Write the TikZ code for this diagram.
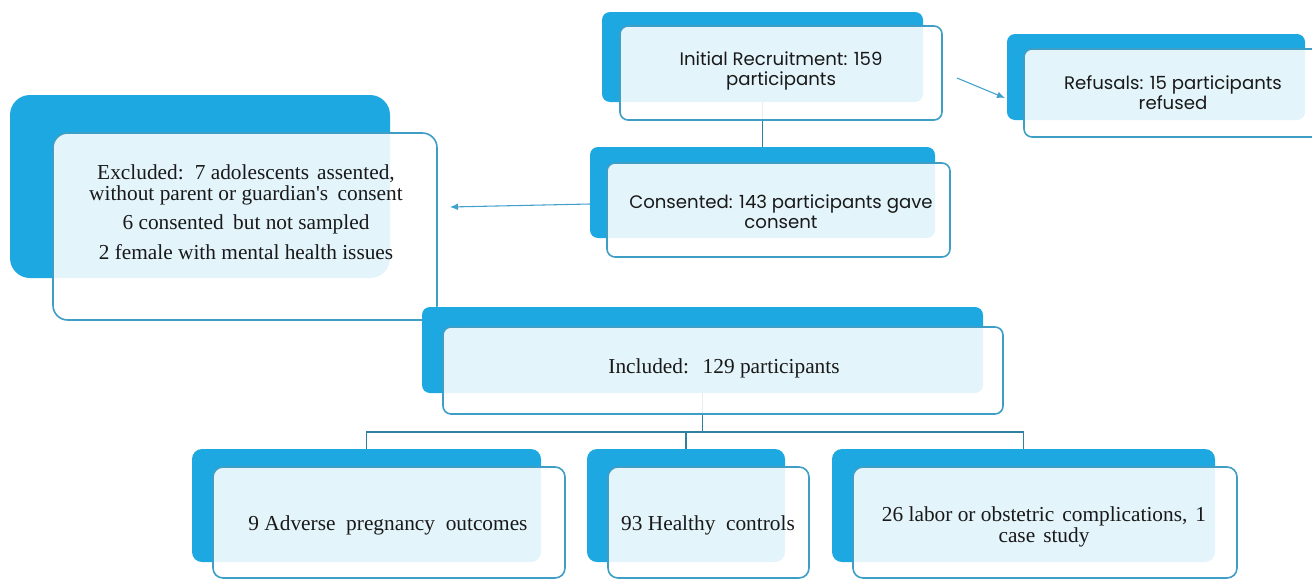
\documentclass[tikz,border=0pt]{standalone}
\usepackage{fontspec}
\setmainfont{Liberation Serif}
\newfontfamily\gothic{Poppins}
\usetikzlibrary{fit,calc,arrows.meta,backgrounds}
\definecolor{bblue}{RGB}{30,168,225}
\definecolor{edgeblue}{RGB}{62,158,198}
\definecolor{linkc}{RGB}{48,128,160}
\definecolor{arrc}{RGB}{64,160,205}
\definecolor{txt}{RGB}{25,25,25}
\begin{document}
\begin{tikzpicture}[x=0.75pt,y=-0.75pt,
  back/.style={fill=bblue, draw=none, rounded corners=6pt, inner sep=0pt, outer sep=0pt},
  front/.style={fill=white, fill opacity=0.88, draw=edgeblue, draw opacity=1, line width=1.2pt, rounded corners=6pt, inner sep=0pt, outer sep=0pt},
  serif/.style={font=\fontsize{16}{15.75}\selectfont, text=txt, align=center, inner sep=0pt},
  sans/.style={font=\gothic\fontsize{13.6}{15}\selectfont, text=txt, align=center, inner sep=0pt},
  link/.style={draw=linkc, line width=1.1pt},
  arr/.style={draw=arrc, line width=0.8pt, -{Latex[length=6pt,width=5pt]}}]
\useasboundingbox (0,0) rectangle (1312,579);
% boxes
\node[back, fit={(602,12) (923,102)}] (initB) {};
\node[front, fit={(620,26) (942,120)}] (initF) {};
\node[back, fit={(1007,34) (1305,120)}] (refB) {};
\node[front, fit={(1024,49) (1330,137)}] (refF) {};
\node[back, rounded corners=15pt, fit={(10,95) (390,278)}] (excB) {};
\node[front, rounded corners=11pt, fit={(53,133) (437,320)}] (excF) {};
\node[back, fit={(590,147) (935,238)}] (consB) {};
\node[front, fit={(607,163) (950,257)}] (consF) {};
\node[back, fit={(422,307) (983,393)}] (inclB) {};
\node[front, fit={(443,327) (1003,414)}] (inclF) {};
\node[back, rounded corners=7.5pt, fit={(192,449) (541,562)}] (aB) {};
\node[front, rounded corners=7.5pt, fit={(213,467) (565,578)}] (aF) {};
\node[back, rounded corners=7.5pt, fit={(587,449) (785,562)}] (bB) {};
\node[front, rounded corners=7.5pt, fit={(608,467) (809,578)}] (bF) {};
\node[back, rounded corners=7.5pt, fit={(832,449) (1215,562)}] (cB) {};
\node[front, rounded corners=7.5pt, fit={(853,467) (1237,578)}] (cF) {};
% texts
\node[sans] (initT) at (781,71) {Initial Recruitment: 159\\participants};
\node[sans] (refT) at (1173,93) {Refusals: 15 participants\\refused};
\node[sans] (consT) at (781,212) {Consented: 143 participants gave\\consent};
\node[serif] (excT) at (246,212) {Excluded:\hspace{3pt} 7 adolescents\hspace{2pt} assented,\\without parent or guardian\textquotesingle s\hspace{3pt} consent\\[6pt]6 consented\hspace{3pt} but not sampled\\[7pt]2 female with mental health issues};
\node[serif] (inclT) at (724,368) {Included:\hspace{5pt} 129 participants};
\node[serif] (aT) at (388,525) {9 Adverse\hspace{4pt} pregnancy\hspace{4pt} outcomes};
\node[serif] (bT) at (708,525) {93 Healthy\hspace{4pt} controls};
\node[serif, font=\fontsize{16}{14}\selectfont] (cT) at (1044,527) {26 labor or obstetric\hspace{2pt} complications,\hspace{2pt} 1\\case\hspace{2pt} study};
\coordinate (hub) at (703,432);
% connectors
\begin{scope}[on background layer]
\draw[link] (initB.south -| consB.north) -- (consB.north);
\draw[link] ($(consB.south)+(5.5,0)$) -- ($(consB.south)+(5.5,0)$ |- inclB.north);
\draw[link] (inclB.south) -- (inclB.south |- hub);
\draw[link] (aB.north) -- (aB.north |- hub) -- (cB.north |- hub) -- (cB.north);
\draw[link] (bB.north) -- (bB.north |- hub);
\draw[arr] ($(consB.west)+(0,11.5)$) -- ($(excF.east)+(13,-19.5)$);
\draw[arr] ($(initF.east)+(15,5)$) -- ($(refB.west)+(-2,21)$);
\end{scope}
\end{tikzpicture}
\end{document}
